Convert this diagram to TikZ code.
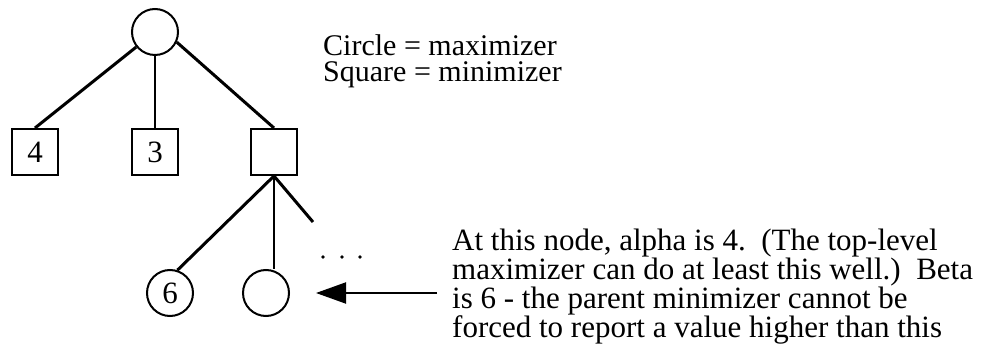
\documentclass[tikz,border=0pt]{standalone}
\usepackage{fontspec}
\setmainfont{Liberation Serif}
\usetikzlibrary{arrows.meta}
\begin{document}
\begin{tikzpicture}[x=1pt,y=-1pt,
  maxnode/.style={circle,draw,line width=2pt,minimum size=46pt,inner sep=0pt,font=\fontsize{31}{31}\selectfont},
  minnode/.style={rectangle,draw,line width=2pt,minimum size=46pt,inner sep=0pt,font=\fontsize{31}{31}\selectfont},
  thickedge/.style={line width=3pt},
  thinedge/.style={line width=2pt},
  pointer/.style={line width=2pt,-{Triangle[length=30pt,width=21pt]}},
  legendtext/.style={inner sep=0pt,align=left,font=\fontsize{30}{25.5}\selectfont},
  notetext/.style={inner sep=0pt,align=left,font=\fontsize{31}{29}\selectfont},
  dotmark/.style={circle,fill,inner sep=0pt,minimum size=3.6pt}]
\useasboundingbox (0,0) rectangle (982,352);
% nodes
\node[maxnode] (root) at (155,32) {};
\node[minnode] (m4) at (35,152) {4};
\node[minnode] (m3) at (155,152) {3};
\node[minnode] (mr) at (274,152) {};
\node[maxnode] (c6) at (170,293) {6};
\node[maxnode] (c2) at (266,293) {};
\coordinate (stub) at (313,222);
% edges
\draw[thickedge] (root) -- (m4.north);
\draw[thinedge] (root.south) -- (m3.north);
\draw[thickedge] (root.-25) -- (mr.north);
\draw[thickedge] (mr.south) -- (c6.72);
\draw[thinedge] (mr.south) -- (mr.south |- c2.north);
\draw[thickedge] (mr.south) -- (stub);
% ellipsis
\node[dotmark] (d1) at (323,257) {};
\node[dotmark] (d2) at (342,257) {};
\node[dotmark] (d3) at (360,257) {};
% arrow
\coordinate (tail) at (437,293);
\draw[pointer] (tail) -- ([xshift=26pt]c2.east);
% texts
\node[legendtext,anchor=north west] (legend) at (323,34.6) {Circle = maximizer\\Square = minimizer};
\node[notetext,anchor=north west] (note) at (452,228.5) {At this node, alpha is 4.\ \ (The top-level\\maximizer can do at least this well.)\ \ Beta\\is 6 - the parent minimizer cannot be\\forced to report a value higher than this};
\end{tikzpicture}
\end{document}
